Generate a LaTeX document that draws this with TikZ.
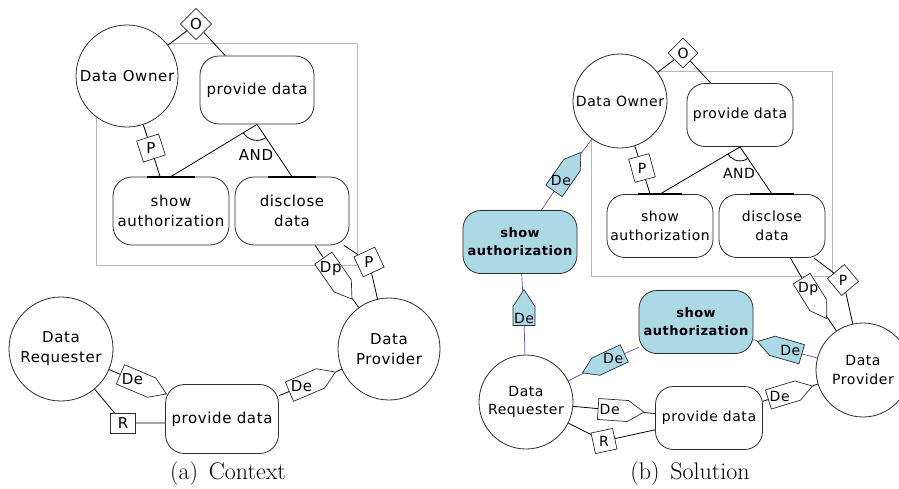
\documentclass[tikz,border=0pt]{standalone}
\usepackage{fontspec}
\newfontfamily\dv[LetterSpace=4]{DejaVu Sans}
\usetikzlibrary{shapes.symbols,shapes.geometric,backgrounds,calc}
\definecolor{bluefill}{RGB}{173,216,230}
\definecolor{blueline}{RGB}{95,80,215}
\definecolor{boxgray}{RGB}{185,185,185}
\definecolor{edgecol}{RGB}{45,45,45}
\tikzset{
  actor/.style={circle, draw=edgecol, line width=0.8pt, fill=white, inner sep=0pt, align=center},
  goal/.style={rectangle, rounded corners=19pt, draw=edgecol, line width=0.8pt, fill=white, align=center, inner sep=0pt},
  pa/.style={font=\dv\fontsize{15}{20}\selectfont},
  pb/.style={font=\dv\fontsize{14}{18.5}\selectfont},
  pbold/.style={font=\dv\bfseries\fontsize{13}{18}\selectfont},
  sig/.style={signal, signal to=east, signal pointer angle=66, draw=edgecol, line width=0.7pt, fill=white, minimum width=50pt, minimum height=21pt, inner sep=0pt},
  sqr/.style={rectangle, draw=edgecol, line width=0.7pt, fill=white, minimum width=23pt, minimum height=22pt, inner sep=0pt},
  lbl/.style={inner sep=0pt},
  conn/.style={draw=black, line width=0.8pt},
  bconn/.style={draw=blueline, line width=0.7pt},
  bluebox/.style={fill=bluefill},
  capt/.style={font=\fontsize{24}{28}\selectfont},
  andbar/.style={draw=black, line width=2pt}
}
% square / diamond label on a link
\newcommand\lnk[6]{%
  \node[#2, rotate=#3] (#1) at #4 {};
  \node[lbl, #6] (#1t) at (#1.center) {#5};}
% pentagon (dependency) label on a link: text sits in the rectangular part
\newcommand\dep[6]{%
  \node[#2, rotate=#3] (#1) at #4 {};
  \node[lbl, #6] (#1t) at ($(#1.center)!0.22!(#1.west)$) {#5};}
\begin{document}
\begin{tikzpicture}[x=1pt,y=-1pt]
\useasboundingbox (0,0) rectangle (899,488);
% ---------- panel (a) ----------
\node[actor, pa, minimum size=102pt] (do1) at (127,76) {Data Owner};
\node[goal, pa, minimum width=114pt, minimum height=68pt] (pd1) at (257,90) {provide data};
\node[goal, pa, minimum width=116pt, minimum height=68pt] (sa1) at (171,211) {show\\authorization};
\node[goal, pa, minimum width=114pt, minimum height=68pt] (dd1) at (292,211) {disclose\\data};
\node[actor, pa, minimum size=102pt] (dpv1) at (389,349) {Data\\Provider};
\node[actor, pa, minimum size=104pt] (dr1) at (61,349) {Data\\Requester};
\node[goal, pa, minimum width=113pt, minimum height=69pt] (pd2) at (222,419) {provide data};
\node[pa, inner sep=0pt] (and1) at (256,155) {AND};
\lnk{o1}{sqr,minimum width=22pt,minimum height=22pt}{45}{(196,24)}{O}{pa}
\lnk{p1}{sqr}{18}{(151,148)}{P}{pa}
\lnk{p2}{sqr}{25}{(369,262)}{P}{pa}
\dep{dp1}{sig}{-55}{(333,272)}{Dp}{pa}
\dep{de1}{sig}{-23}{(136,381)}{De}{pa}
\lnk{r1}{sqr,minimum width=25pt,minimum height=20pt}{0}{(123,423)}{R}{pa}
\dep{de2}{sig}{23}{(305,385)}{De}{pa}
\node[capt] (capa) at (228,474) {(a)\hspace{0.45em}Context};
\draw[andbar] ([xshift=-24pt]sa1.north) -- ([xshift=24pt]sa1.north);
\draw[andbar] ([xshift=-24pt]dd1.north) -- ([xshift=24pt]dd1.north);
% ---------- panel (b) ----------
\node[actor, pb, minimum size=94pt] (do2) at (620,101) {Data Owner};
\node[goal, pb, rounded corners=18pt, minimum width=106pt, minimum height=63pt] (pd3) at (740,115) {provide data};
\node[goal, pb, rounded corners=18pt, minimum width=106pt, minimum height=63pt] (sa3) at (660,226) {show\\authorization};
\node[goal, pb, rounded corners=18pt, minimum width=106pt, minimum height=63pt] (dd3) at (772,226) {disclose\\data};
\node[goal, bluebox, pbold, rounded corners=18pt, minimum width=114pt, minimum height=63pt] (bsa1) at (520,242) {show\\authorization};
\node[goal, bluebox, pbold, rounded corners=18pt, minimum width=114pt, minimum height=63pt] (bsa2) at (696,322) {show\\authorization};
\node[actor, pb, minimum size=94pt] (dr2) at (526,402) {Data\\Requester};
\node[actor, pb, minimum size=94pt] (dpv2) at (863,370) {Data\\Provider};
\node[goal, pb, rounded corners=18pt, minimum width=107pt, minimum height=63pt] (pd4) at (709,418) {provide data};
\node[pb, inner sep=0pt] (and2) at (739,173) {AND};
\lnk{o2}{sqr,minimum width=21pt,minimum height=21pt}{45}{(683,53)}{O}{pb}
\lnk{p3}{sqr,minimum width=21pt,minimum height=24pt}{15}{(642,168)}{P}{pb}
\lnk{p4}{sqr,minimum width=22pt,minimum height=22pt}{40}{(843,280)}{P}{pb}
\dep{dp2}{sig,minimum width=47pt,minimum height=20pt}{-58}{(810,292)}{Dp}{pb}
\dep{bde1}{sig,bluebox,minimum width=47pt,minimum height=20pt}{55}{(563,178)}{De}{pb}
\dep{bde2}{sig,bluebox,minimum width=36pt,minimum height=22pt}{90}{(524,316)}{De}{pb}
\dep{bde3}{sig,bluebox,minimum width=46pt,minimum height=19pt}{205}{(610,360)}{De}{pb}
\dep{bde4}{sig,bluebox,minimum width=46pt,minimum height=20pt}{164}{(787,350)}{De}{pb}
\dep{de5}{sig,minimum width=46pt,minimum height=21pt}{-4}{(613,410)}{De}{pb}
\lnk{r2}{sqr,minimum width=22pt,minimum height=21pt}{12}{(604,441)}{R}{pb}
\dep{de6}{sig,minimum width=46pt,minimum height=20pt}{17}{(783,395)}{De}{pb}
\node[capt] (capb) at (690,474) {(b)\hspace{0.45em}Solution};
\draw[andbar] ([xshift=-22pt]sa3.north) -- ([xshift=22pt]sa3.north);
\draw[andbar] ([xshift=-22pt]dd3.north) -- ([xshift=22pt]dd3.north);
% ---------- background: boundaries and connectors ----------
\begin{scope}[on background layer]
  \draw[boxgray, line width=0.8pt] (96,43) rectangle (357,265);
  \draw[boxgray, line width=0.8pt] (591,71) rectangle (832,276);
  % (a)
  \draw[conn] (do1) -- (o1) -- (pd1);
  \draw[conn] (do1) -- (p1) -- (sa1);
  \draw[conn] (pd1.south) -- (sa1.north);
  \draw[conn] (pd1.south) -- (dd1.north);
  \draw[conn] (dd1) -- (dp1) -- (dpv1);
  \draw[conn] (dd1) -- (p2) -- (dpv1);
  \draw[conn] (dr1) -- (de1) -- (pd2);
  \draw[conn] (dr1) -- (r1) -- (pd2.west |- r1);
  \draw[conn] (pd2) -- (de2) -- (dpv1);
  \begin{scope}
    \clip (pd1.south) -- (sa1.north) -- (dd1.north) -- cycle;
    \draw[conn] (pd1.south) circle[radius=16pt];
  \end{scope}
  % (b)
  \draw[conn] (do2) -- (o2) -- (pd3);
  \draw[conn] (do2) -- (p3) -- (sa3);
  \draw[conn] (pd3.south) -- (sa3.north);
  \draw[conn] (pd3.south) -- (dd3.north);
  \draw[conn] (dd3) -- (dp2) -- (dpv2);
  \draw[conn] (dd3) -- (p4) -- (dpv2);
  \draw[bconn] (do2) -- (bde1) -- (bsa1);
  \draw[bconn] (bsa1) -- (bde2) -- (dr2);
  \draw[bconn] (dr2) -- (bde3) -- (bsa2);
  \draw[bconn] (bsa2) -- (bde4) -- (dpv2);
  \draw[conn] (dr2) -- (de5) -- (pd4);
  \draw[conn] (dr2) -- (r2) -- (pd4);
  \draw[conn] (pd4) -- (de6) -- (dpv2);
  \begin{scope}
    \clip (pd3.south) -- (sa3.north) -- (dd3.north) -- cycle;
    \draw[conn] (pd3.south) circle[radius=14pt];
  \end{scope}
\end{scope}
\end{tikzpicture}
\end{document}
